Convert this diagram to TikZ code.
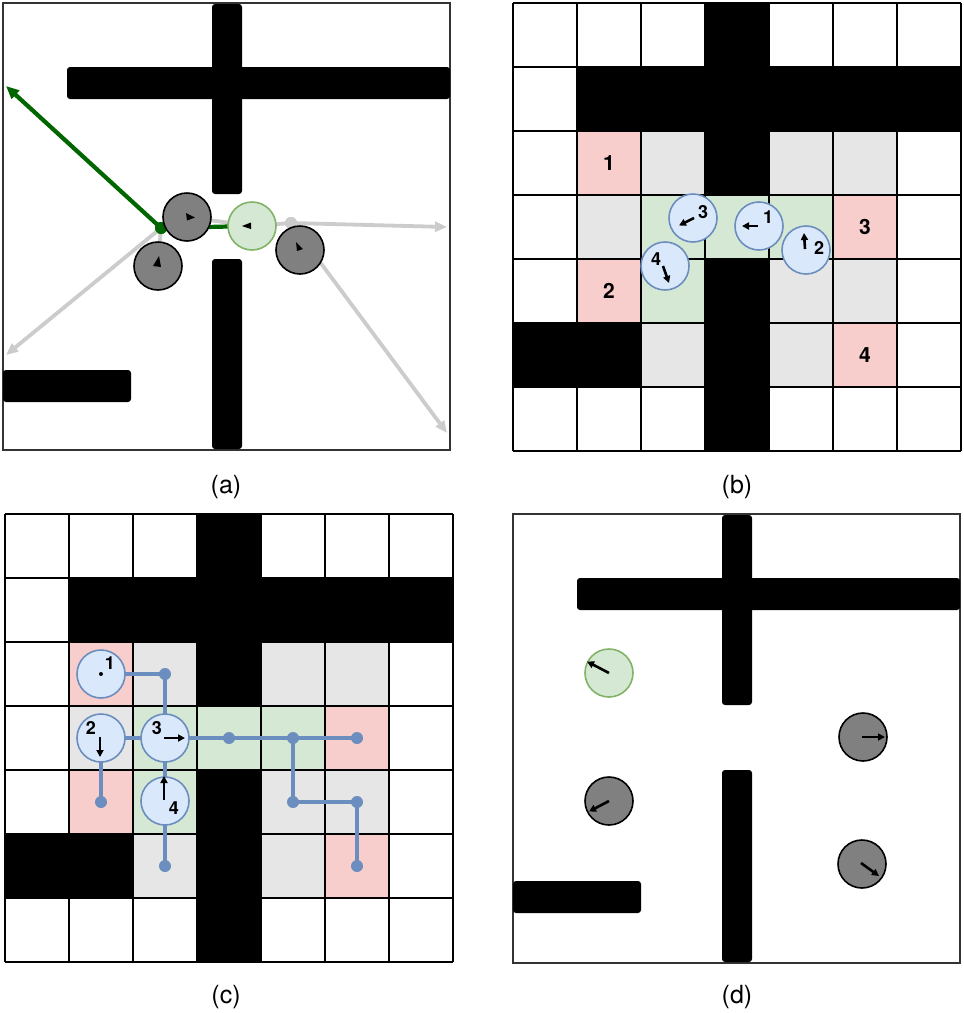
\documentclass[tikz,border=0pt]{standalone}
\usepackage{fontspec}
\setmainfont{TeX Gyre Heros}
\usetikzlibrary{arrows.meta}
\definecolor{pinkc}{HTML}{F8CECC}
\definecolor{grayc}{HTML}{E6E6E6}
\definecolor{greenc}{HTML}{D5E8D4}
\definecolor{greenline}{HTML}{82B366}
\definecolor{bluec}{HTML}{DAE8FC}
\definecolor{blueline}{HTML}{6C8EBF}
\definecolor{darkg}{HTML}{006600}
\definecolor{lgray}{HTML}{CCCCCC}
\definecolor{robgray}{HTML}{808080}
\definecolor{framec}{HTML}{333333}
\begin{document}
\begin{tikzpicture}[x=1pt,y=-1pt,
  robotgray/.style={circle,draw=black,fill=robgray,line width=1.6pt,minimum size=48pt,inner sep=0pt},
  robotgreen/.style={circle,draw=greenline,fill=greenc,line width=1.6pt,minimum size=48pt,inner sep=0pt},
  robotblue/.style={circle,draw=blueline,fill=bluec,line width=1.6pt,minimum size=48pt,inner sep=0pt},
  obst/.style={fill=black,rounded corners=3pt},
  frame/.style={draw=framec,line width=1.4pt},
  gridline/.style={draw=black,line width=1.6pt},
  dirarrow/.style={-{Triangle[length=7pt,width=7pt]},line width=2.6pt,black},
  headtri/.style={fill=black},
  gline/.style={draw=darkg,line width=4.2pt},
  lline/.style={draw=lgray,line width=3.8pt},
  gdotstyle/.style={circle,fill=darkg,minimum size=12pt,inner sep=0pt},
  ldotstyle/.style={circle,fill=lgray,minimum size=12pt,inner sep=0pt},
  bpath/.style={draw=blueline,line width=4.2pt},
  pdot/.style={circle,fill=blueline,minimum size=12pt,inner sep=0pt},
  rlabel/.style={font=\fontsize{18}{18}\selectfont\bfseries,inner sep=0pt},
  clabel/.style={font=\fontsize{21}{21}\selectfont\bfseries,inner sep=0pt},
  plabel/.style={font=\fontsize{25}{28}\selectfont,inner sep=0pt}
]
\useasboundingbox (0,0) rectangle (964,1013);
\fill[white] (0,0) rectangle (964,1013);

% ================= Panel (a) =================
\draw[frame] (3,3) rectangle (450,450);
\fill[obst] (212,4) rectangle (242,194);
\fill[obst] (67,67) rectangle (450,99);
\fill[obst] (212,259) rectangle (242,449);
\fill[obst] (3,370) rectangle (131,402);

\node[gdotstyle] (agdot) at (161,228) {};
\node[ldotstyle] (aldot) at (291,223) {};
\coordinate (agend) at (6,86);
\coordinate (alend1) at (6,355);
\coordinate (alend2) at (447,227);
\coordinate (alend3) at (447,433);
\coordinate (ar1c) at (187,217);
\coordinate (agc) at (252,226);
\coordinate (ar2c) at (158,266);

\draw[lline] (ar1c) -- (agc);
\draw[lline] (agc) -- (aldot.center);
\draw[lline,-{Triangle[length=12pt,width=10pt]}] (aldot.center) -- (alend2);
\draw[lline,-{Triangle[length=12pt,width=10pt]}] (aldot.center) -- (alend3);
\draw[lline,-{Triangle[length=12pt,width=10pt]}] (agdot.center) -- (alend1);
\draw[lline] (agdot.center) -- (ar2c);
\draw[gline] (agdot.center) -- (agc);
\draw[gline,-{Triangle[length=13pt,width=11pt]}] (agdot.center) -- (agend);
\node[ldotstyle] at (aldot) {};
\node[gdotstyle] at (agdot) {};

\node[robotgray] (ar1) at (ar1c) {};
\node[robotgreen] (ag) at (agc) {};
\node[robotgray] (ar2) at (ar2c) {};
\node[robotgray] (ar3) at (300,250) {};
\fill[headtri] (195,217.5) -- (186,213) -- (187,220.5) -- cycle;
\fill[headtri] (242,226) -- (251,222.5) -- (251,229) -- cycle;
\fill[headtri] (159,256) -- (153,266) -- (161,267) -- cycle;
\fill[headtri] (296,242) -- (297,251) -- (303,249) -- cycle;

\node[plabel] (la) at (226,487) {(a)};

% ================= Grid panels (b) and (c) =================
\foreach \ox/\oy in {513/3, 5/514} {
  \begin{scope}[shift={(\ox,\oy)}]
    \foreach \c/\r in {3/0,1/1,2/1,3/1,4/1,5/1,6/1,3/2,3/4,0/5,1/5,3/5,3/6}
      \fill[black] (\c*64,\r*64) rectangle ++(64,64);
    \foreach \c/\r in {1/2,1/4,5/3,5/5}
      \fill[pinkc] (\c*64,\r*64) rectangle ++(64,64);
    \foreach \c/\r in {2/2,4/2,5/2,1/3,4/4,5/4,2/5,4/5}
      \fill[grayc] (\c*64,\r*64) rectangle ++(64,64);
    \foreach \c/\r in {2/3,3/3,4/3,2/4}
      \fill[greenc] (\c*64,\r*64) rectangle ++(64,64);
    \foreach \k in {0,...,7} {
      \draw[gridline] (\k*64,0) -- (\k*64,448);
      \draw[gridline] (0,\k*64) -- (448,\k*64);
    }
  \end{scope}
}

% ----- Panel (b) -----
\node[clabel] (bt1) at (609,163) {1};
\node[clabel] (bt2) at (609,291) {2};
\node[clabel] (bt3) at (865,227) {3};
\node[clabel] (bt4) at (865,355) {4};

\node[robotblue] (br3) at (693,218) {};
\node[robotblue] (br1) at (759,226) {};
\node[robotblue] (br2) at (806,250) {};
\node[robotblue] (br4) at (665,266) {};
\draw[dirarrow] (694,218) -- (679,225.5);
\draw[dirarrow] (758,226) -- (742,226);
\draw[dirarrow] (805,249) -- (804,233);
\draw[dirarrow] (663,266) -- (669,283);
\node[rlabel] (br3l) at (703,212) {3};
\node[rlabel] (br1l) at (768,217) {1};
\node[rlabel] (br2l) at (819,248) {2};
\node[rlabel] (br4l) at (656,259) {4};

\node[plabel] (lb) at (737,487) {(b)};

% ----- Panel (c) -----
\node[pdot] (cp1) at (165,674) {};
\node[pdot] (cp2) at (229,738) {};
\node[pdot] (cp3) at (293,738) {};
\node[pdot] (cp4) at (357,738) {};
\node[pdot] (cp5) at (293,802) {};
\node[pdot] (cp6) at (357,802) {};
\node[pdot] (cp7) at (357,866) {};
\node[pdot] (cp8) at (101,802) {};
\node[pdot] (cp9) at (165,866) {};
\coordinate (cr1c) at (101,674);
\coordinate (cr2c) at (101,738);
\coordinate (cr3c) at (165,738);
\coordinate (cr4c) at (165,801);
\draw[bpath] (cr1c) -- (cp1.center) -- (cp9.center);
\draw[bpath] (cr2c) -- (cr3c);
\draw[bpath] (cr3c) -- (cp4.center);
\draw[bpath] (cp3.center) -- (cp5.center) -- (cp6.center) -- (cp7.center);
\draw[bpath] (cr2c) -- (cp8.center);

\node[robotblue] (cr1) at (cr1c) {};
\node[robotblue] (cr2) at (cr2c) {};
\node[robotblue] (cr3) at (cr3c) {};
\node[robotblue] (cr4) at (cr4c) {};
\fill[black] (101,674) circle (2pt);
\draw[dirarrow] (100,737) -- (100,757);
\draw[dirarrow] (164,738) -- (185,738);
\draw[dirarrow] (164,800) -- (164,776);
\node[rlabel] (cr1l) at (110,663) {1};
\node[rlabel] (cr2l) at (91,728) {2};
\node[rlabel] (cr3l) at (157,728) {3};
\node[rlabel] (cr4l) at (174,808) {4};

\node[plabel] (lc) at (226,997) {(c)};

% ================= Panel (d) =================
\draw[frame] (513,514) rectangle (960,963);
\fill[obst] (722,515) rectangle (752,705);
\fill[obst] (577,578) rectangle (960,610);
\fill[obst] (722,770) rectangle (752,962);
\fill[obst] (513,881) rectangle (641,913);

\node[robotgreen] (dg) at (609,673) {};
\node[robotgray] (dr1) at (609,801) {};
\node[robotgray] (dr2) at (863,737) {};
\node[robotgray] (dr3) at (862,864) {};
\draw[dirarrow] (609,673) -- (587,661.5);
\draw[dirarrow] (609,801) -- (589,811.5);
\draw[dirarrow] (862,737) -- (885,737);
\draw[dirarrow] (861,863) -- (879,876);

\node[plabel] (ld) at (737,997) {(d)};
\end{tikzpicture}
\end{document}
